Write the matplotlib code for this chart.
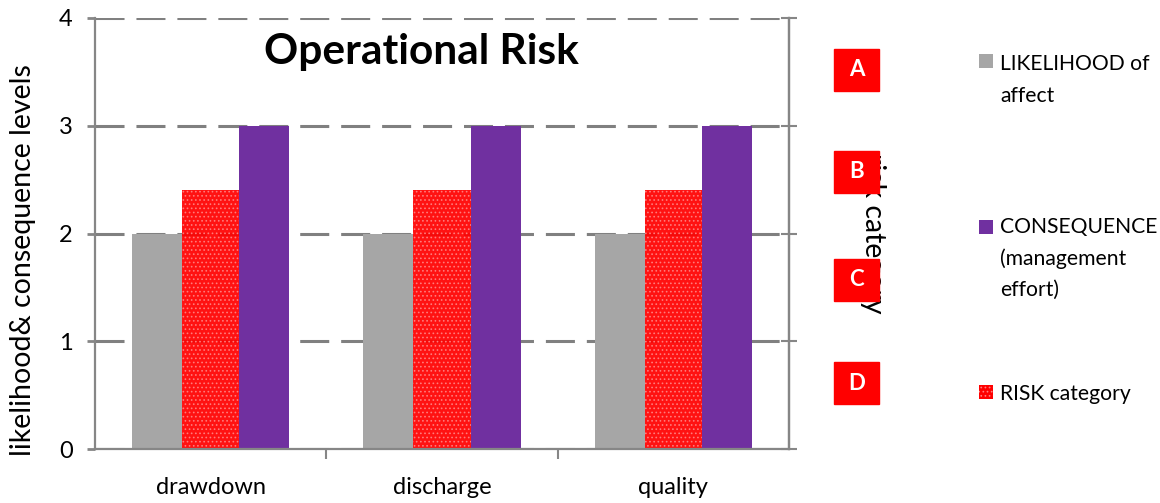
import matplotlib
matplotlib.use("Agg")
import matplotlib.pyplot as plt
from matplotlib.patches import Rectangle

# Data
categories = ["drawdown", "discharge", "quality"]
likelihood = [2, 2, 2]
risk = [2.4, 2.4, 2.4]
consequence = [3, 3, 3]
y_ticks = [0, 1, 2, 3, 4]
risk_levels = ["A", "B", "C", "D"]
legend_labels = ["LIKELIHOOD of\naffect", "CONSEQUENCE\n(management\neffort)", "RISK category"]

W, H = 1160, 503
plt.rcParams["font.family"] = ["Lato", "DejaVu Sans"]
plt.rcParams["hatch.linewidth"] = 0.7

GRAY = "#a6a6a6"
PURPLE = "#7030a0"
RED = "#ff0000"
HATCH = "#ff8080"
AXIS = "#868686"

fig = plt.figure(figsize=(W / 100, H / 100), dpi=100)


def fx(x):
    return x / W


def fy(y):
    return 1 - y / H


ax = fig.add_axes([fx(95), fy(449), fx(789) - fx(95), fy(18) - fy(449)])

x = list(range(len(categories)))
ax.bar([i - 0.2316 for i in x], likelihood, width=0.216, color=GRAY, zorder=2)
ax.bar(x, risk, width=0.247, color=RED, edgecolor=HATCH, linewidth=0,
       hatch="....", alpha=0.93, zorder=2)
ax.bar([i + 0.2316 for i in x], consequence, width=0.216, color=PURPLE, zorder=2)

ax.set_xlim(-0.5, len(categories) - 0.5)
ax.set_ylim(0, 4)
ax.set_yticks(y_ticks)
ax.set_yticklabels([str(t) for t in y_ticks], fontsize=17)
ax.set_xticks(x)
ax.set_xticklabels(categories, fontsize=17)
ax.set_xticks([i + 0.5 for i in x[:-1]], minor=True)
ax.tick_params(axis="x", which="major", length=0, pad=20)
ax.tick_params(axis="x", which="minor", length=7, width=1.5, color=AXIS, direction="out")
ax.tick_params(axis="y", length=6, width=2, color=AXIS, direction="out", pad=10)

ax.set_axisbelow(True)
ax.yaxis.grid(True, color="#808080", linewidth=2.2, linestyle=(0, (9.5, 3.9)))
ax.spines["top"].set_visible(False)
for s in ["left", "bottom", "right"]:
    ax.spines[s].set_color(AXIS)
    ax.spines[s].set_linewidth(1.6)

# value-axis title, set a little below the axis midpoint
fig.text(fx(23), fy(260), "likelihood& consequence levels", rotation=90,
         ha="center", va="center", fontsize=20.5)

# secondary (risk category) axis on the right
ax2 = ax.twinx()
ax2.set_ylim(0, 4)
ax2.set_yticks(y_ticks)
ax2.set_yticklabels([])
ax2.tick_params(axis="y", direction="inout", length=11, width=1.5, color=AXIS)
for s in ["left", "top", "bottom"]:
    ax2.spines[s].set_visible(False)
ax2.spines["right"].set_color(AXIS)
ax2.spines["right"].set_linewidth(1.6)

fig.text(fx(421), fy(52), "Operational Risk", ha="center", va="center",
         fontsize=30.5, fontweight="bold")

fig.text(fx(873), fy(233), "risk category", rotation=270, ha="center",
         va="center", fontsize=20.5)

# risk level badges
badge_centers = [70, 172, 280, 383]
for lab, yc in zip(risk_levels, badge_centers):
    fig.patches.append(Rectangle((fx(834), fy(yc + 21)), fx(45), 42 / H,
                                 transform=fig.transFigure, color=RED, zorder=5))
    fig.text(fx(856.5), fy(yc), lab, color="white", fontsize=16,
             fontweight="bold", ha="center", va="center", zorder=6)

# legend
legend_items = [
    (GRAY, None, legend_labels[0], 61, 62),
    (PURPLE, None, legend_labels[1], 227, 225),
    (RED, "....", legend_labels[2], 392, 392),
]
line_step = 31.5
for color, hatch, label, ysq, ytxt in legend_items:
    fig.patches.append(Rectangle((fx(979), fy(ysq + 7)), fx(14), 14 / H,
                                 transform=fig.transFigure, facecolor=color,
                                 edgecolor=HATCH if hatch else color,
                                 linewidth=0, hatch=hatch))
    for k, line in enumerate(label.split("\n")):
        fig.text(fx(1000), fy(ytxt + k * line_step), line, fontsize=15.2,
                 ha="left", va="center_baseline")

fig.savefig("out.png", dpi=100)
